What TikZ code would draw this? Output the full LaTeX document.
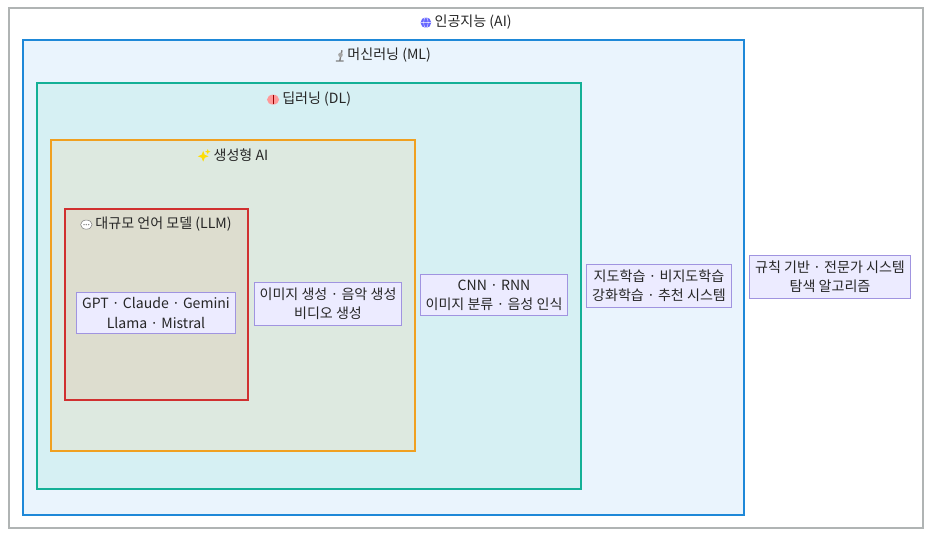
\documentclass[tikz,border=0pt]{standalone}
\usepackage{fontspec}
\setmainfont{Noto Sans CJK KR}
\usetikzlibrary{shapes.geometric}
\definecolor{ailine}{HTML}{B0B4B4}
\definecolor{mlline}{HTML}{1E88D8}
\definecolor{mlfill}{HTML}{EAF4FD}
\definecolor{dlline}{HTML}{14B096}
\definecolor{dlfill}{HTML}{D6F0F3}
\definecolor{genline}{HTML}{F0A020}
\definecolor{genfill}{HTML}{DDE9E0}
\definecolor{llmline}{HTML}{D03030}
\definecolor{llmfill}{HTML}{DDDDCF}
\definecolor{leafline}{HTML}{A094E0}
\definecolor{leaffill}{HTML}{ECEBFF}
\newcommand{\iconglobe}{\tikz[baseline=-0.5ex]{\fill[blue!60] (0,0) circle (0.7ex); \draw[white, line width=0.2pt] (0,0) ellipse (0.3ex and 0.7ex) (-0.7ex,0) -- (0.7ex,0);}}
\newcommand{\iconscope}{\tikz[baseline=-0.5ex]{\draw[gray, line width=0.8pt] (-0.5ex,-0.7ex) -- (0.5ex,-0.7ex) (0,-0.7ex) -- (0.3ex,0.7ex); \fill[gray!70] (0.1ex,0.1ex) circle (0.3ex);}}
\newcommand{\iconbrain}{\tikz[baseline=-0.5ex]{\fill[pink!80!red] (0,0) ellipse (0.8ex and 0.65ex); \draw[red!60!black, line width=0.2pt] (0,-0.6ex) -- (0,0.6ex);}}
\newcommand{\iconspark}{\tikz[baseline=-0.5ex]{\node[star, star points=4, star point ratio=2.5, fill=yellow!80!orange, inner sep=0, minimum size=1.4ex] (s1) at (0,0) {}; \node[star, star points=4, star point ratio=2.5, fill=yellow!80!orange, inner sep=0, minimum size=0.7ex] (s2) at (0.6ex,0.6ex) {};}}
\newcommand{\iconchat}{\tikz[baseline=-0.5ex]{\draw[gray, fill=white, line width=0.3pt] (0,0) ellipse (0.75ex and 0.6ex); \fill[gray] (-0.3ex,0) circle (0.1ex) (0,0) circle (0.1ex) (0.3ex,0) circle (0.1ex);}}
\tikzset{
  box/.style={line width=1.3pt},
  title/.style={inner sep=0, font=\fontsize{8}{10}\selectfont, text=black!85},
  leaf/.style={draw=leafline, fill=leaffill, line width=0.5pt, align=center, inner sep=3pt,
    font=\fontsize{8}{11}\selectfont, text=black!85}
}
\begin{document}
\begin{tikzpicture}[x=0.02cm, y=-0.02cm]
    \useasboundingbox (0,0) rectangle (932,537);
    % nested areas
    \draw [draw=ailine, fill=white, line width=0.8pt] (9,8) rectangle (923,528);
    \draw [box, draw=mlline, fill=mlfill] (23,40) rectangle (744,515);
    \draw [box, draw=dlline, fill=dlfill] (37,83) rectangle (581,489);
    \draw [box, draw=genline, fill=genfill] (51,140) rectangle (415,451);
    \draw [box, draw=llmline, fill=llmfill] (65,209) rectangle (248,400);
    % titles
    \node [title] (tai) at (466,22) {\iconglobe\ 인공지능 (AI)};
    \node [title] (tml) at (383,55) {\iconscope\ 머신러닝 (ML)};
    \node [title] (tdl) at (309,99) {\iconbrain\ 딥러닝 (DL)};
    \node [title] (tgen) at (233,155) {\iconspark\ 생성형 AI};
    \node [title] (tllm) at (156,224) {\iconchat\ 대규모 언어 모델 (LLM)};
    % contents
    \node [leaf] (llm) at (156,313) {GPT · Claude · Gemini\\Llama · Mistral};
    \node [leaf] (gen) at (328,304) {이미지 생성 · 음악 생성\\비디오 생성};
    \node [leaf] (dl) at (494,295) {CNN · RNN\\이미지 분류 · 음성 인식};
    \node [leaf] (ml) at (659,286) {지도학습 · 비지도학습\\강화학습 · 추천 시스템};
    \node [leaf] (ai) at (830,277) {규칙 기반 · 전문가 시스템\\탐색 알고리즘};
\end{tikzpicture}
\end{document}
